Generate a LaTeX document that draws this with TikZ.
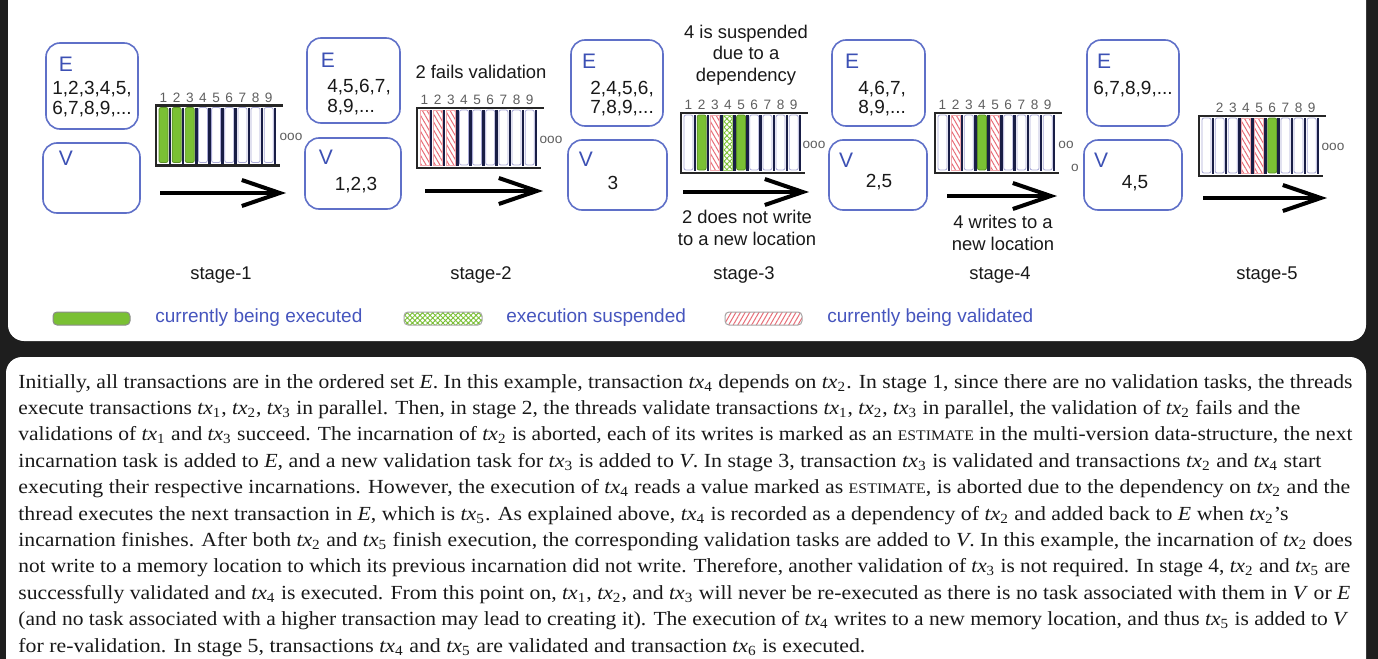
\documentclass[tikz,border=0pt]{standalone}
\usepackage{fontspec}
\setmainfont{Liberation Serif}
\setsansfont{Liberation Sans}
\usepackage{graphicx}
\usetikzlibrary{arrows.meta,patterns.meta}
\definecolor{bgdark}{RGB}{30,30,30}
\definecolor{boxblue}{RGB}{95,112,200}
\definecolor{lblblue}{RGB}{60,80,180}
\definecolor{legblue}{RGB}{70,85,190}
\definecolor{grn}{RGB}{122,192,52}
\definecolor{pinkred}{RGB}{232,110,120}
\definecolor{navy}{RGB}{25,30,70}
\definecolor{lav}{RGB}{170,170,215}
\definecolor{numgray}{RGB}{95,95,95}
\definecolor{txt}{RGB}{25,25,25}
\tikzset{
 evbox/.style={draw=boxblue, line width=0.8pt, rounded corners=7pt},
 evlbl/.style={text=lblblue, font=\sffamily\fontsize{10.5}{12}\selectfont, inner sep=0pt},
 evtxt/.style={text=txt, font=\sffamily\fontsize{9.5}{9.8}\selectfont, align=left, inner sep=0pt},
 notetxt/.style={text=txt, font=\sffamily\fontsize{9.2}{10.8}\selectfont, align=center, inner sep=0pt},
 numtxt/.style={text=numgray, font=\sffamily\fontsize{6.8}{7}\selectfont, inner sep=0pt},
 ellip/.style={text=numgray, font=\sffamily\fontsize{6.8}{7}\selectfont, inner sep=0pt},
 barw/.style={draw=lav, fill=white, line width=0.4pt, rounded corners=1pt},
 barg/.style={draw=grn!75!black, fill=grn, line width=0.4pt, rounded corners=1pt},
 barp/.style={draw=pinkred!60, pattern={Lines[angle=-60,distance=2pt,line width=0.5pt]}, pattern color=pinkred, line width=0.4pt},
 baru/.style={draw=grn!70, pattern={Hatch[angle=45,distance=2pt,line width=0.45pt]}, pattern color=grn, line width=0.4pt},
 sepline/.style={draw=navy, line width=1.3pt},
 arrframe/.style={draw=black!85, line width=1.3pt},
 bigarrow/.style={draw=black, line width=2pt, -{Straight Barb[length=19pt,width=13pt]}},
 legtxt/.style={text=legblue, font=\sffamily\fontsize{9.5}{11}\selectfont, inner sep=0pt, anchor=west},
 para/.style={text=txt, font=\fontsize{10}{12}\selectfont, inner sep=0pt, anchor=base west},
}
\newcommand\txarr[3]{%
 \begin{scope}[shift={(#1,#2)}]
 \foreach \t/\l [count=\i] in {#3} {
   \pgfmathsetmacro\bx{3+(\i-1)*13.15}
   \path[bar\t] (\bx,2) rectangle ++(9,55);
   \draw[sepline] (\bx+10.9,2) -- (\bx+10.9,58);
   \node[numtxt] at (\bx+4.5,-8) {\l};
 }
 \draw[arrframe] (-1,0) -- (127,0) (0,0) -- (0,60) -- (124,60);
 \end{scope}}
\newcommand\txn[1]{\textit{tx}\textsubscript{#1}}
\newcommand\estm{{\fontsize{7.3}{9}\selectfont ESTIMATE}}
\newcommand\pline[4]{\node[para] (#1) at (18,#2) {\resizebox{#3pt}{\height}{#4}};}
\begin{document}
\begin{tikzpicture}[x=0.5pt,y=-0.5pt]
\useasboundingbox (0,0) rectangle (1378,659);
\fill[bgdark] (0,0) rectangle (1378,659);
\begin{scope}
\clip (0,0) rectangle (1378,659);
\fill[white, rounded corners=8pt] (8,-30) rectangle (1366,341);
\fill[white, rounded corners=8pt] (6,357) rectangle (1366,700);
\end{scope}

% ---------- stage 1
\draw[evbox] (46,43) rectangle (138,129);
\node[evlbl] (e1l) at (66,64) {E};
\node[evtxt, anchor=west] (e1t) at (52,99) {1,2,3,4,5,\\6,7,8,9,...};
\draw[evbox] (43,143) rectangle (140,213);
\node[evlbl] (v1l) at (66,158) {V};
\txarr{156}{105.5}{g/1,g/2,g/3,w/4,w/5,w/6,w/7,w/8,w/9}
\node[ellip] (d1) at (291,137) {ooo};
\coordinate (a1s) at (160,193); \coordinate (a1e) at (286,193);
\draw[bigarrow] (a1s) -- (a1e);
\node[notetxt] (s1) at (221,275) {stage-1};

% ---------- stage 2
\draw[evbox] (307,38) rectangle (400,123);
\node[evlbl] (e2l) at (328,60) {E};
\node[evtxt, anchor=west] (e2t) at (327,97) {4,5,6,7,\\8,9,...};
\draw[evbox] (305,138) rectangle (401,209);
\node[evlbl] (v2l) at (326,157) {V};
\node[evtxt] (v2t) at (356,185) {1,2,3};
\node[notetxt] (n2) at (481,72) {2 fails validation};
\txarr{417}{108}{p/1,p/2,p/3,w/4,w/5,w/6,w/7,w/8,w/9}
\node[ellip] (d2) at (551,140) {ooo};
\coordinate (a2s) at (425,191); \coordinate (a2e) at (543,191);
\draw[bigarrow] (a2s) -- (a2e);
\node[notetxt] (s2) at (481,275) {stage-2};

% ---------- stage 3
\draw[evbox] (571,40) rectangle (663,126);
\node[evlbl] (e3l) at (589,61) {E};
\node[evtxt, anchor=west] (e3t) at (590,98.5) {2,4,5,6,\\7,8,9,...};
\draw[evbox] (568,140) rectangle (667,210);
\node[evlbl] (v3l) at (586,159) {V};
\node[evtxt] (v3t) at (613,183) {3};
\node[notetxt] (n3a) at (746,55) {4 is suspended\\due to a\\dependency};
\txarr{681}{113}{w/1,g/2,p/3,u/4,g/5,w/6,w/7,w/8,w/9}
\node[ellip] (d3) at (814,145) {ooo};
\coordinate (a3s) at (683,192); \coordinate (a3e) at (809,192);
\draw[bigarrow] (a3s) -- (a3e);
\node[notetxt] (n3b) at (747,228) {2 does not write\\to a new location};
\node[notetxt] (s3) at (744,275) {stage-3};

% ---------- stage 4
\draw[evbox] (832,40) rectangle (925,126);
\node[evlbl] (e4l) at (852,61) {E};
\node[evtxt, anchor=west] (e4t) at (858,98.5) {4,6,7,\\8,9,...};
\draw[evbox] (829,140) rectangle (927,210);
\node[evlbl] (v4l) at (846,160) {V};
\node[evtxt] (v4t) at (879,182) {2,5};
\txarr{935}{113}{w/1,p/2,w/3,g/4,p/5,w/6,w/7,w/8,w/9}
\node[ellip] (d4a) at (1066,145) {oo};
\node[ellip] (d4b) at (1075,168) {o};
\coordinate (a4s) at (947,196); \coordinate (a4e) at (1057,196);
\draw[bigarrow] (a4s) -- (a4e);
\node[notetxt] (n4) at (1003,233) {4 writes to a\\new location};
\node[notetxt] (s4) at (1000,275) {stage-4};

% ---------- stage 5
\draw[evbox] (1087,40) rectangle (1179,126);
\node[evlbl] (e5l) at (1104,61) {E};
\node[evtxt, anchor=west] (e5t) at (1093,89) {6,7,8,9,...};
\draw[evbox] (1084,140) rectangle (1182,210);
\node[evlbl] (v5l) at (1101,160) {V};
\node[evtxt] (v5t) at (1135,183) {4,5};
\txarr{1199}{116}{w/{},w/2,w/3,p/4,p/5,g/6,w/7,w/8,w/9}
\node[ellip] (d5) at (1333,147) {ooo};
\coordinate (a5s) at (1203,198); \coordinate (a5e) at (1327,198);
\draw[bigarrow] (a5s) -- (a5e);
\node[notetxt] (s5) at (1267,275) {stage-5};

% ---------- legend
\path[draw=black!45, line width=0.5pt, fill=grn, rounded corners=2pt] (53,312) rectangle (130,325);
\node[legtxt] (lg1) at (155,318) {currently being executed};
\path[draw=black!35, line width=0.5pt, pattern={Hatch[angle=45,distance=1.8pt,line width=0.45pt]}, pattern color=grn, rounded corners=2pt] (404,312) rectangle (482,325);
\node[legtxt] (lg2) at (506,318) {execution suspended};
\path[draw=black!35, line width=0.5pt, pattern={Lines[angle=60,distance=2pt,line width=0.5pt]}, pattern color=pinkred, rounded corners=2pt] (725,312) rectangle (802,325);
\node[legtxt] (lg3) at (827,318) {currently being validated};

% ---------- paragraph
\pline{l1}{388}{667}{Initially, all transactions are in the ordered set \textit{E}. In this example, transaction \txn{4} depends on \txn{2}. In stage 1, since there are no validation tasks, the threads}
\pline{l2}{414.4}{641}{execute transactions \txn{1}, \txn{2}, \txn{3} in parallel. Then, in stage 2, the threads validate transactions \txn{1}, \txn{2}, \txn{3} in parallel, the validation of \txn{2} fails and the}
\pline{l3}{440.8}{667}{validations of \txn{1} and \txn{3} succeed. The incarnation of \txn{2} is aborted, each of its writes is marked as an \estm{} in the multi-version data-structure, the next}
\pline{l4}{467.2}{651.5}{incarnation task is added to \textit{E}, and a new validation task for \txn{3} is added to \textit{V}. In stage 3, transaction \txn{3} is validated and transactions \txn{2} and \txn{4} start}
\pline{l5}{493.6}{666}{executing their respective incarnations. However, the execution of \txn{4} reads a value marked as \estm, is aborted due to the dependency on \txn{2} and the}
\pline{l6}{520}{635}{thread executes the next transaction in \textit{E}, which is \txn{5}. As explained above, \txn{4} is recorded as a dependency of \txn{2} and added back to \textit{E} when \txn{2}'s}
\pline{l7}{546.4}{667}{incarnation finishes. After both \txn{2} and \txn{5} finish execution, the corresponding validation tasks are added to \textit{V}. In this example, the incarnation of \txn{2} does}
\pline{l8}{572.8}{666}{not write to a memory location to which its previous incarnation did not write. Therefore, another validation of \txn{3} is not required. In stage 4, \txn{2} and \txn{5} are}
\pline{l9}{599.2}{666}{successfully validated and \txn{4} is executed. From this point on, \txn{1}, \txn{2}, and \txn{3} will never be re-executed as there is no task associated with them in \textit{V} or \textit{E}}
\pline{l10}{625.6}{665}{(and no task associated with a higher transaction may lead to creating it). The execution of \txn{4} writes to a new memory location, and thus \txn{5} is added to \textit{V}}
\pline{l11}{652}{423.5}{for re-validation. In stage 5, transactions \txn{4} and \txn{5} are validated and transaction \txn{6} is executed.}
\end{tikzpicture}
\end{document}
